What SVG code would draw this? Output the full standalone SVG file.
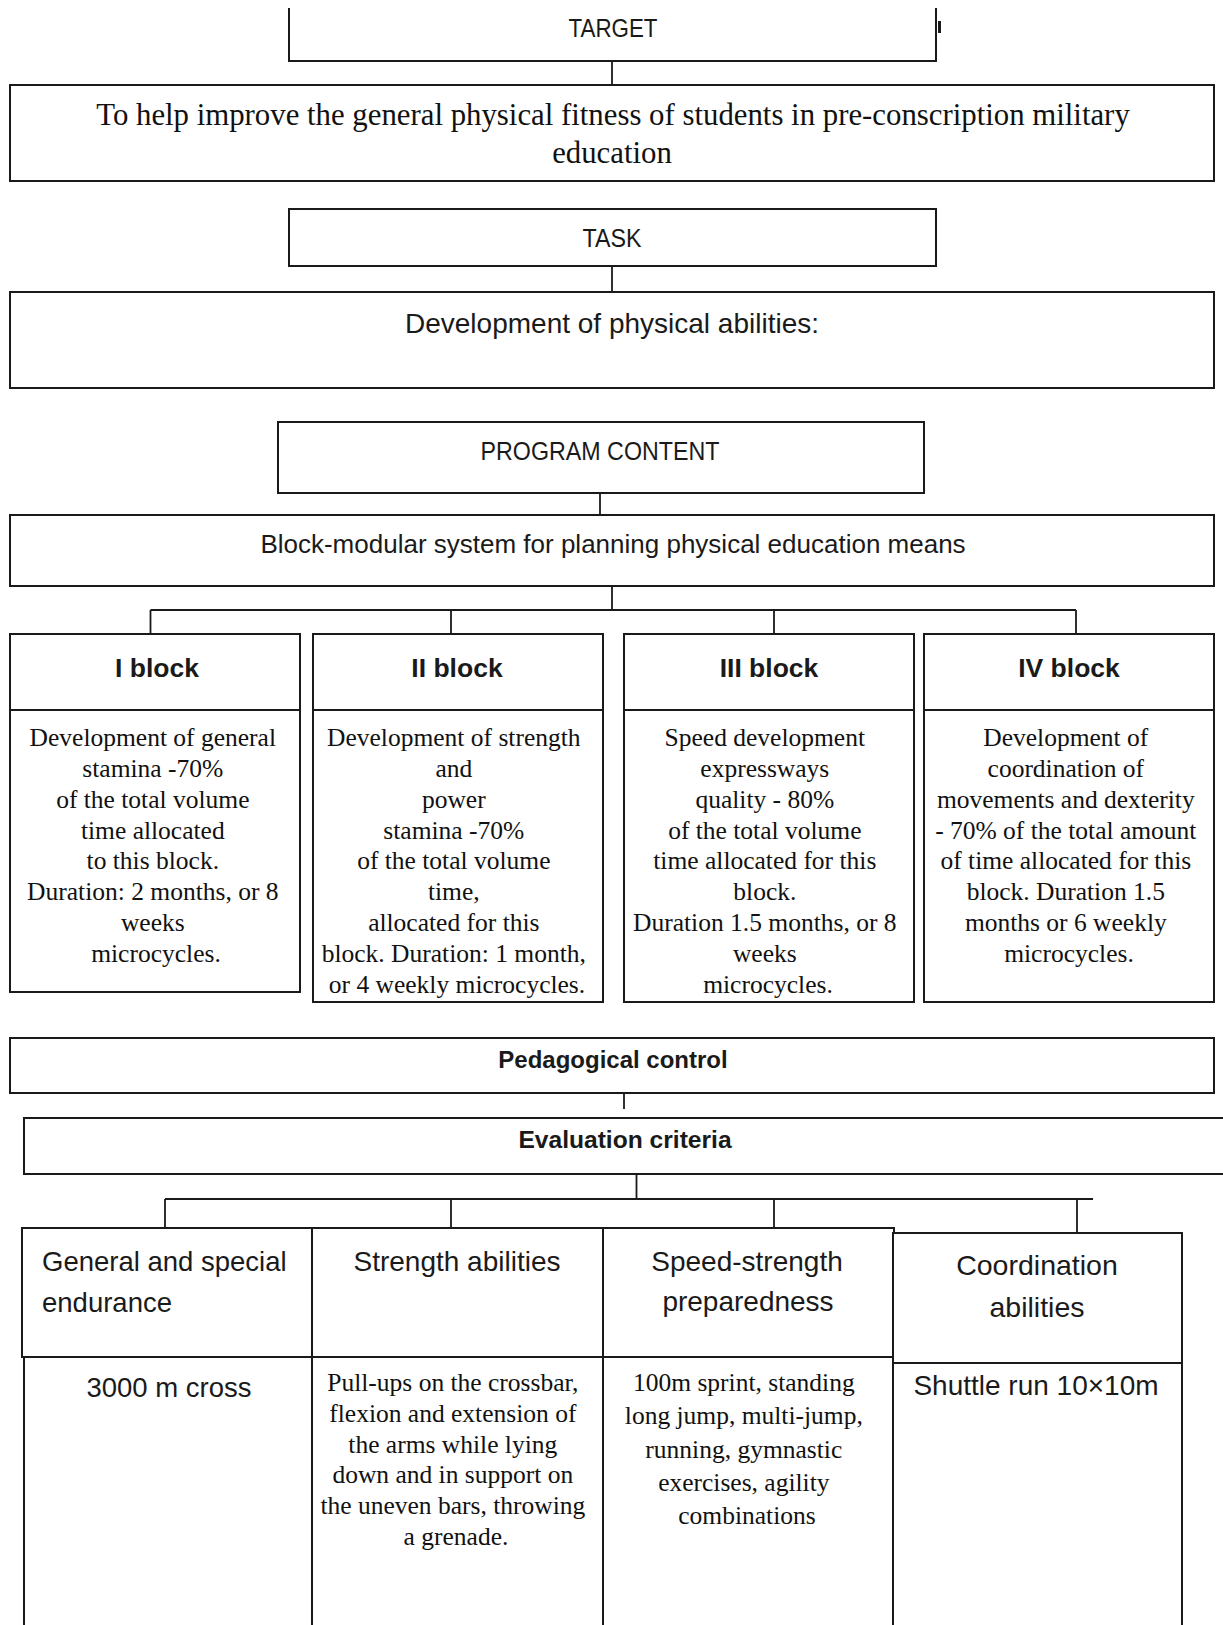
<svg xmlns="http://www.w3.org/2000/svg" width="1223" height="1625" viewBox="0 0 1223 1625">
<style>
.bx{fill:#fff;stroke:#1a1a1a;stroke-width:2}
.ln{fill:none;stroke:#1a1a1a;stroke-width:1.8}
.s{font-family:"Liberation Sans",Arial,sans-serif;fill:#1a1a1a;text-anchor:middle}
.sb{font-family:"Liberation Sans",Arial,sans-serif;fill:#1a1a1a;text-anchor:middle;font-weight:bold}
.r{font-family:"Liberation Serif","Times New Roman",serif;fill:#111;text-anchor:middle}
.t25{font-size:25.5px}
</style>
<rect width="1223" height="1625" fill="#fff"/>

<g id="connectors">
<path class="ln" d="M612,61 V85"/>
<path class="ln" d="M612,266 V292"/>
<path class="ln" d="M600,493 V515"/>
<path class="ln" d="M612,586 V610 M150.5,610 H1076 M150.5,610 V634 M451,610 V634 M774,610 V634 M1076,610 V634"/>
<path class="ln" d="M624,1083 V1109"/>
<path class="ln" d="M636.5,1174 V1199 M165,1199 H1093 M165,1199 V1228 M451,1199 V1228 M774,1199 V1228 M1077,1199 V1233"/>
</g>

<g id="target">
<path class="ln" d="M289,8 V61 H936 V8" style="stroke-width:2"/>
<path class="ln" d="M939.5,21 V33" style="stroke-width:3"/>
<text class="s" x="613" y="37" font-size="25" textLength="89" lengthAdjust="spacingAndGlyphs">TARGET</text>
</g>

<g id="goal">
<rect class="bx" x="10" y="85" width="1204" height="96"/>
<text class="r" x="613" y="125" font-size="30.8">To help improve the general physical fitness of students in pre-conscription military</text>
<text class="r" x="612" y="163" font-size="30.8">education</text>
</g>

<g id="task">
<rect class="bx" x="289" y="209" width="647" height="57"/>
<text class="s" x="612" y="247" font-size="25" textLength="59" lengthAdjust="spacingAndGlyphs">TASK</text>
</g>

<g id="development">
<rect class="bx" x="10" y="292" width="1204" height="96"/>
<text class="s" x="612" y="333" font-size="28">Development of physical abilities:</text>
</g>

<g id="program">
<rect class="bx" x="278" y="422" width="646" height="71"/>
<text class="s" x="600" y="460" font-size="25" textLength="239" lengthAdjust="spacingAndGlyphs">PROGRAM CONTENT</text>
</g>

<g id="blockmodular">
<rect class="bx" x="10" y="515" width="1204" height="71"/>
<text class="s" x="613" y="553" font-size="26">Block-modular system for planning physical education means</text>
</g>

<g id="block1">
<rect class="bx" x="10" y="634" width="290" height="76"/>
<rect class="bx" x="10" y="710" width="290" height="282"/>
<text class="sb" x="157" y="677" font-size="26.5">I block</text>
<text class="r t25" y="746">
<tspan x="156">Development of general</tspan>
<tspan x="156" dy="30.85">stamina -70%</tspan>
<tspan x="156" dy="30.85">of the total volume</tspan>
<tspan x="156" dy="30.85">time allocated</tspan>
<tspan x="156" dy="30.85">to this block.</tspan>
<tspan x="156" dy="30.85">Duration: 2 months, or 8</tspan>
<tspan x="156" dy="30.85">weeks</tspan>
<tspan x="156" dy="30.85">microcycles.</tspan>
</text>
</g>

<g id="block2">
<rect class="bx" x="313" y="634" width="290" height="76"/>
<rect class="bx" x="313" y="710" width="290" height="292"/>
<text class="sb" x="457" y="677" font-size="26.5">II block</text>
<text class="r t25" y="746">
<tspan x="457">Development of strength</tspan>
<tspan x="457" dy="30.85">and</tspan>
<tspan x="457" dy="30.85">power</tspan>
<tspan x="457" dy="30.85">stamina -70%</tspan>
<tspan x="457" dy="30.85">of the total volume</tspan>
<tspan x="457" dy="30.85">time,</tspan>
<tspan x="457" dy="30.85">allocated for this</tspan>
<tspan x="457" dy="30.85">block. Duration: 1 month,</tspan>
<tspan x="457" dy="30.85">or 4 weekly microcycles.</tspan>
</text>
</g>

<g id="block3">
<rect class="bx" x="624" y="634" width="290" height="76"/>
<rect class="bx" x="624" y="710" width="290" height="292"/>
<text class="sb" x="769" y="677" font-size="26.5">III block</text>
<text class="r t25" y="746">
<tspan x="768">Speed development</tspan>
<tspan x="768" dy="30.85">expressways</tspan>
<tspan x="768" dy="30.85">quality - 80%</tspan>
<tspan x="768" dy="30.85">of the total volume</tspan>
<tspan x="768" dy="30.85">time allocated for this</tspan>
<tspan x="768" dy="30.85">block.</tspan>
<tspan x="768" dy="30.85">Duration 1.5 months, or 8</tspan>
<tspan x="768" dy="30.85">weeks</tspan>
<tspan x="768" dy="30.85">microcycles.</tspan>
</text>
</g>

<g id="block4">
<rect class="bx" x="924" y="634" width="290" height="76"/>
<rect class="bx" x="924" y="710" width="290" height="292"/>
<text class="sb" x="1069" y="677" font-size="26.5">IV block</text>
<text class="r t25" y="746">
<tspan x="1069">Development of</tspan>
<tspan x="1069" dy="30.85">coordination of</tspan>
<tspan x="1069" dy="30.85">movements and dexterity</tspan>
<tspan x="1069" dy="30.85">- 70% of the total amount</tspan>
<tspan x="1069" dy="30.85">of time allocated for this</tspan>
<tspan x="1069" dy="30.85">block. Duration 1.5</tspan>
<tspan x="1069" dy="30.85">months or 6 weekly</tspan>
<tspan x="1069" dy="30.85">microcycles.</tspan>
</text>
</g>

<g id="pedagogical">
<rect class="bx" x="10" y="1038" width="1204" height="55"/>
<text class="sb" x="613" y="1068" font-size="24">Pedagogical control</text>
</g>

<g id="evaluation">
<rect class="bx" x="24" y="1118" width="1216" height="56"/>
<text class="sb" x="625" y="1148" font-size="24.6">Evaluation criteria</text>
</g>

<g id="endurance">
<rect class="bx" x="22" y="1228" width="290" height="129"/>
<rect class="bx" x="24" y="1357" width="288" height="300"/>
<text class="s" x="42" y="1271" font-size="27.5" text-anchor="start" style="text-anchor:start">General and special</text>
<text class="s" x="42" y="1312" font-size="27.5" style="text-anchor:start">endurance</text>
<text class="s" x="169" y="1397" font-size="27.5">3000 m cross</text>
</g>

<g id="strength">
<rect class="bx" x="312" y="1228" width="291" height="129"/>
<rect class="bx" x="312" y="1357" width="291" height="300"/>
<text class="s" x="457" y="1271" font-size="28">Strength abilities</text>
<text class="r t25" y="1391">
<tspan x="456">Pull-ups on the crossbar,</tspan>
<tspan x="456" dy="30.8">flexion and extension of</tspan>
<tspan x="456" dy="30.8">the arms while lying</tspan>
<tspan x="456" dy="30.8">down and in support on</tspan>
<tspan x="456" dy="30.8">the uneven bars, throwing</tspan>
<tspan x="456" dy="30.8">a grenade.</tspan>
</text>
</g>

<g id="speedstrength">
<rect class="bx" x="603" y="1228" width="291" height="129"/>
<rect class="bx" x="603" y="1357" width="291" height="300"/>
<text class="s" x="747" y="1271" font-size="28">Speed-strength</text>
<text class="s" x="748" y="1311" font-size="28">preparedness</text>
<text class="r t25" y="1391">
<tspan x="747">100m sprint, standing</tspan>
<tspan x="747" dy="33.3">long jump, multi-jump,</tspan>
<tspan x="747" dy="33.3">running, gymnastic</tspan>
<tspan x="747" dy="33.3">exercises, agility</tspan>
<tspan x="747" dy="33.3">combinations</tspan>
</text>
</g>

<g id="coordination">
<rect class="bx" x="893" y="1233" width="289" height="130"/>
<rect class="bx" x="893" y="1363" width="289" height="300"/>
<text class="s" x="1037" y="1275" font-size="28.5">Coordination</text>
<text class="s" x="1037" y="1317" font-size="28.5">abilities</text>
<text class="s" x="1036" y="1395" font-size="28">Shuttle run 10×10m</text>
</g>
</svg>
